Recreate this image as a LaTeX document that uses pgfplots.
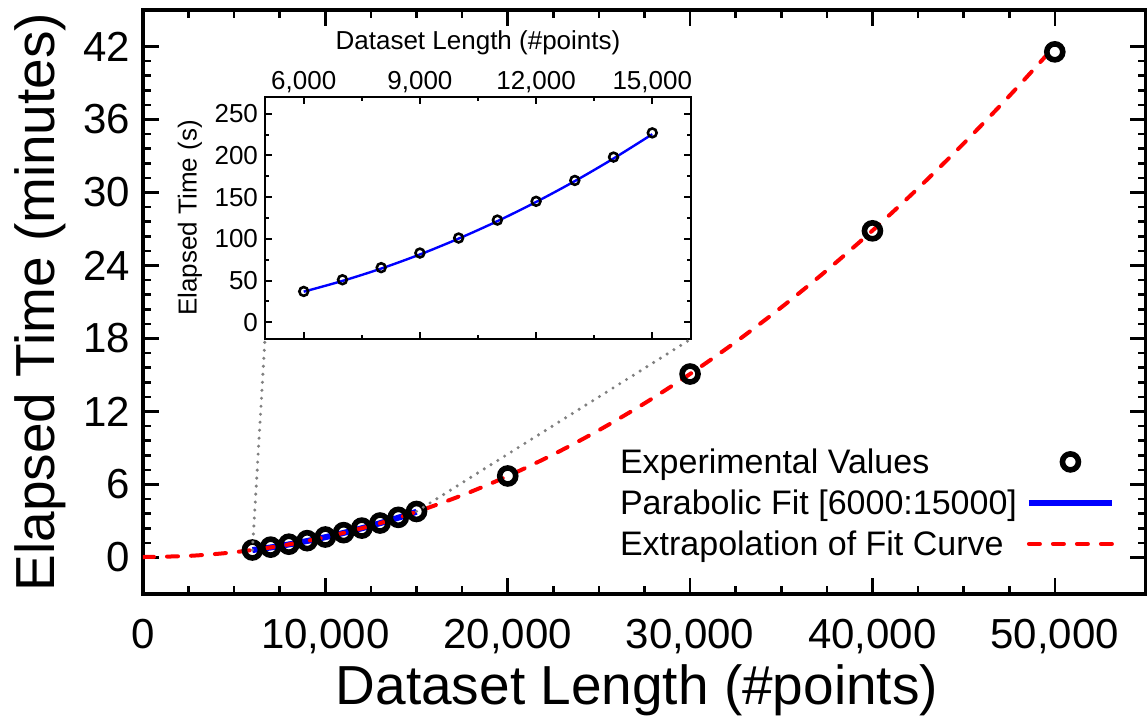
\documentclass[border=0pt]{standalone}
\usepackage{fontspec}
\setmainfont{Liberation Sans}
\usepackage{pgfplots}
\pgfplotsset{compat=1.18}

\definecolor{fitblue}{RGB}{0,0,255}
\definecolor{fitred}{RGB}{255,0,0}
\definecolor{dotgray}{RGB}{128,128,128}

\pgfplotsset{
  legmark/.style={legend image code/.code={\draw[##1] plot coordinates {(20.75pt,2.8pt)};}},
  legline/.style={legend image code/.code={\draw[##1] (0pt,2.8pt) -- (41.5pt,2.8pt);}},
}

\begin{document}
\begin{tikzpicture}
\useasboundingbox (-71.5pt,-64pt) rectangle (502pt,297pt);
% main axis
\begin{axis}[
  name=main, at={(0,0)}, anchor=south west,
  scale only axis, width=501.5pt, height=292pt,
  xmin=0, xmax=55000, ymin=-3, ymax=45,
  xtick={0,10000,20000,30000,40000,50000},
  ytick={0,6,...,42},
  minor x tick num=3, minor y tick num=4,
  tick align=inside,
  major tick length=8pt, minor tick length=4pt,
  major tick style={line width=1.3pt, black},
  minor tick style={line width=1.3pt, black},
  axis line style={line width=1.6pt},
  scaled x ticks=false,
  /pgf/number format/1000 sep={,},
  /pgf/number format/assume math mode=true,
  xticklabel style={font=\fontsize{21}{21}\selectfont, anchor=base, yshift=-27.5pt},
  yticklabel style={font=\fontsize{21}{21}\selectfont, xshift=-3pt},
  xlabel={Dataset Length (\#points)},
  ylabel={Elapsed Time (minutes)},
  xlabel style={font=\fontsize{27.5}{27.5}\selectfont, at={(axis description cs:0.4925,-0.1644)}, anchor=center},
  ylabel style={font=\fontsize{27.5}{27.5}\selectfont, at={(axis description cs:-0.1027,0.5)}, anchor=center},
  legend style={draw=none, fill=none, at={(axis description cs:0.4756,0.1464)}, anchor=west,
    inner sep=0pt, outer sep=0pt, font=\fontsize{17}{20.5}\selectfont,
    row sep=0pt, column sep=4.5pt,
    nodes={inner sep=0pt, text height=13pt, text depth=7.5pt}},
  legend cell align=left, legend plot pos=right,
]
% experimental values
\addplot[only marks, mark=o, mark size=4pt, mark options={line width=2.8pt, black}, legmark]
  coordinates {
  (6000,0.617) (7000,0.850) (8000,1.092) (9000,1.383) (10000,1.683)
  (11000,2.042) (12000,2.417) (13000,2.833) (14000,3.300) (15000,3.783)
  (20000,6.70) (30000,15.08) (40000,26.85) (50000,41.56)
};
\addlegendentry{Experimental Values}
% parabolic fit
\addplot[fitblue, line width=3pt, smooth, legline]
  coordinates {
  (6000,0.612) (7000,0.826) (8000,1.074) (9000,1.356) (10000,1.671)
  (11000,2.020) (12000,2.404) (13000,2.821) (14000,3.271) (15000,3.756)
};
\addlegendentry{Parabolic Fit [6000:15000]}
% extrapolation
\addplot[fitred, line width=2pt, line cap=round, dash pattern=on 5.5pt off 6.5pt, smooth, legline]
  coordinates {
  (0,0.039) (2500,0.130) (5000,0.432) (7500,0.946) (10000,1.671)
  (12500,2.608) (15000,3.756) (17500,5.116) (20000,6.687) (22500,8.469)
  (25000,10.463) (27500,12.669) (30000,15.086) (32500,17.714) (35000,20.554)
  (37500,23.605) (40000,26.868) (42500,30.342) (45000,34.028) (47500,37.925)
  (50000,42.034)
};
\addlegendentry{Extrapolation of Fit Curve}
\coordinate (za) at (axis cs:6000,0.617);
\coordinate (zb) at (axis cs:15000,3.783);
\end{axis}

% inset
\begin{axis}[
  name=inset, at={(61pt,127.5pt)}, anchor=south west,
  scale only axis, width=213pt, height=121pt,
  xmin=5000, xmax=16000, ymin=-20, ymax=270,
  xtick={6000,9000,12000,15000}, minor x tick num=1,
  ytick={0,50,...,250}, minor y tick num=1,
  xticklabel pos=top,
  tick align=inside,
  major tick length=3.5pt, minor tick length=2pt,
  major tick style={line width=1pt, black},
  minor tick style={line width=1pt, black},
  axis line style={line width=1pt},
  axis background/.style={fill=white},
  scaled x ticks=false,
  /pgf/number format/1000 sep={,},
  /pgf/number format/assume math mode=true,
  xticklabel style={font=\fontsize{13}{13}\selectfont, anchor=base, yshift=3.85pt},
  yticklabel style={font=\fontsize{13}{13}\selectfont},
  xlabel={Dataset Length (\#points)},
  ylabel={Elapsed Time (s)},
  xlabel style={font=\fontsize{13}{13}\selectfont, at={(axis description cs:0.5,1)}, anchor=center, yshift=27pt},
  ylabel style={font=\fontsize{13}{13}\selectfont, at={(axis description cs:-0.176,0.5)}, anchor=center},
]
\addplot[only marks, mark=o, mark size=2.2pt, mark options={line width=1.3pt, black}]
  coordinates {
  (6000,37) (7000,51) (8000,65.5) (9000,83) (10000,101)
  (11000,122.5) (12000,145) (13000,170) (14000,198) (15000,227)
};
\addplot[fitblue, line width=1.2pt, smooth]
  coordinates {
  (6000,36.7) (7000,49.6) (8000,64.4) (9000,81.3) (10000,100.3)
  (11000,121.2) (12000,144.2) (13000,169.2) (14000,196.3) (15000,225.4)
};
\end{axis}

% zoom guide lines
\draw[dotgray, line width=1.7pt, line cap=round, dash pattern=on 0pt off 4pt] (za) -- (inset.south west);
\draw[dotgray, line width=1.7pt, line cap=round, dash pattern=on 0pt off 4pt] (zb) -- (inset.south east);
\end{tikzpicture}
\end{document}
